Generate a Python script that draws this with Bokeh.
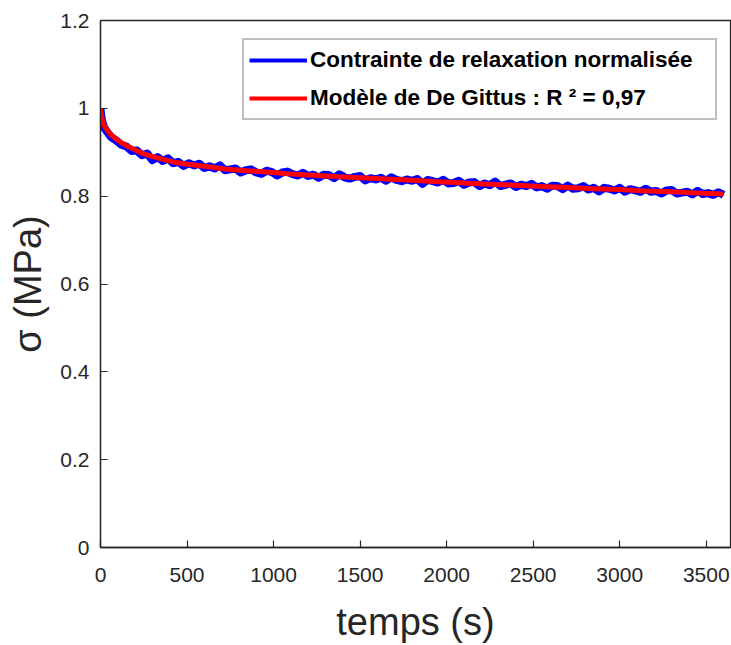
from bokeh.plotting import figure
from bokeh.models import Legend, LegendItem, FixedTicker, CustomJSTickFormatter, Range1d
from bokeh.embed import file_html
from bokeh.resources import INLINE

# ---- data ----
x_ticks = [0, 500, 1000, 1500, 2000, 2500, 3000, 3500]
y_ticks = [0, 0.2, 0.4, 0.6, 0.8, 1, 1.2]

legend_measured = "Contrainte de relaxation normalisée"
legend_model = "Modèle de De Gittus : R ² = 0,97"

x_label = "temps (s)"
y_label = "σ (MPa)"

# measured normalised relaxation stress (noisy)
t_meas = [0, 5, 10, 20, 30, 60, 90, 120, 150, 180, 210, 240, 270, 300, 330, 360, 390,
          420, 450, 480, 510, 540, 570, 600, 630, 660, 690, 720, 750, 780, 810, 840,
          870, 900, 930, 960, 990, 1020, 1050, 1080, 1110, 1140, 1170, 1200, 1230,
          1260, 1290, 1320, 1350, 1380, 1410, 1440, 1470, 1500, 1530, 1560, 1590,
          1620, 1650, 1680, 1710, 1740, 1770, 1800, 1830, 1860, 1890, 1920, 1950,
          1980, 2010, 2040, 2070, 2100, 2130, 2160, 2190, 2220, 2250, 2280, 2310,
          2340, 2370, 2400, 2430, 2460, 2490, 2520, 2550, 2580, 2610, 2640, 2670,
          2700, 2730, 2760, 2790, 2820, 2850, 2880, 2910, 2940, 2970, 3000, 3030,
          3060, 3090, 3120, 3150, 3180, 3210, 3240, 3270, 3300, 3330, 3360, 3390,
          3420, 3450, 3480, 3510, 3540, 3570, 3600]
sigma_meas = [0.998, 0.981, 0.970, 0.957,
              0.951, 0.935, 0.927, 0.917, 0.913, 0.903, 0.904, 0.893, 0.897, 0.882,
              0.889, 0.880, 0.886, 0.875, 0.878, 0.869, 0.875, 0.870, 0.874, 0.864,
              0.868, 0.863, 0.870, 0.859, 0.861, 0.863, 0.854, 0.859, 0.861, 0.854,
              0.851, 0.858, 0.855, 0.847, 0.854, 0.856, 0.850, 0.847, 0.853, 0.846,
              0.849, 0.842, 0.849, 0.848, 0.841, 0.850, 0.843, 0.840, 0.844, 0.846,
              0.836, 0.841, 0.838, 0.842, 0.835, 0.843, 0.837, 0.834, 0.838, 0.835,
              0.839, 0.828, 0.837, 0.834, 0.831, 0.837, 0.829, 0.830, 0.835, 0.826,
              0.831, 0.832, 0.823, 0.829, 0.825, 0.833, 0.823, 0.826, 0.829, 0.821,
              0.826, 0.823, 0.828, 0.820, 0.823, 0.817, 0.824, 0.823, 0.816, 0.824,
              0.817, 0.818, 0.823, 0.815, 0.819, 0.811, 0.819, 0.817, 0.813, 0.819,
              0.810, 0.816, 0.813, 0.810, 0.817, 0.810, 0.812, 0.806, 0.813, 0.814,
              0.806, 0.808, 0.810, 0.804, 0.812, 0.805, 0.807, 0.803, 0.809, 0.803]

# De Gittus model fit
t_model = [0, 5, 10, 20, 30, 60, 90, 120, 150, 180, 240, 300, 360, 420, 480, 540, 600,
           720, 840, 960, 1080, 1200, 1350, 1500, 1650, 1800, 1950, 2100, 2250, 2400,
           2550, 2700, 2850, 3000, 3150, 3300, 3450, 3600]
sigma_model = [1.000, 0.985, 0.975, 0.962, 0.955, 0.940, 0.930, 0.922, 0.915, 0.909,
               0.898, 0.890, 0.884, 0.878, 0.874, 0.871, 0.868, 0.862, 0.858, 0.855,
               0.851, 0.848, 0.845, 0.842, 0.839, 0.836, 0.833, 0.830, 0.827, 0.825,
               0.822, 0.820, 0.817, 0.815, 0.812, 0.810, 0.807, 0.805]

AX = "#262626"
FONT = "Liberation Sans"
BLUE = "#0000ff"
RED = "#ff0000"

p = figure(width=731, height=645, x_range=Range1d(0, 3640), y_range=Range1d(0, 1.2),
           output_backend="svg", toolbar_location=None,
           min_border_left=100, min_border_right=1, min_border_top=20, min_border_bottom=98)
p.background_fill_color = "white"
p.border_fill_color = "white"
p.grid.visible = False
p.outline_line_color = AX
p.outline_line_width = 1.3

p.line(t_meas, sigma_meas, line_color=BLUE, line_width=8, line_join="round")
p.line(t_model, sigma_model, line_color=RED, line_width=5, line_join="round")
# legend swatches (thinner lines, as in the reference legend); a single point draws no segment
k1 = p.line(t_meas[:1], sigma_meas[:1], line_color=BLUE, line_width=4)
k2 = p.line(t_model[:1], sigma_model[:1], line_color=RED, line_width=4)

for ax in (p.xaxis[0], p.yaxis[0]):
    ax.major_tick_in = 7
    ax.major_tick_out = 0
    ax.minor_tick_line_color = None
    ax.axis_line_color = AX
    ax.axis_line_width = 1.3
    ax.major_tick_line_color = AX
    ax.major_tick_line_width = 1.2
    ax.major_label_text_font = FONT
    ax.major_label_text_font_size = "21px"
    ax.major_label_text_color = AX
    ax.axis_label_text_font = FONT
    ax.axis_label_text_font_style = "normal"
    ax.axis_label_text_color = AX
    ax.axis_label_text_font_size = "38px"

p.xaxis.ticker = FixedTicker(ticks=x_ticks)
p.yaxis.ticker = FixedTicker(ticks=y_ticks)
p.yaxis.formatter = CustomJSTickFormatter(code="return String(Math.round(tick*10)/10);")
p.xaxis.major_label_standoff = 20
p.yaxis.major_label_standoff = 11
p.xaxis.axis_label = x_label
p.yaxis.axis_label = y_label
p.xaxis.axis_label_standoff = 16
p.yaxis.axis_label_standoff = 8

legend = Legend(items=[LegendItem(label=legend_measured, renderers=[k1]),
                       LegendItem(label=legend_model, renderers=[k2])],
                location=(142, 427))
legend.label_text_font = FONT
legend.label_text_font_style = "bold"
legend.label_text_font_size = "22.5px"
legend.label_text_color = "black"
legend.label_height = 30
legend.glyph_height = 30
legend.glyph_width = 58
legend.spacing = 8
legend.padding = 5
legend.margin = 0
legend.label_standoff = 3
legend.label_width = 400
legend.border_line_color = "#808080"
legend.border_line_width = 2
legend.background_fill_color = "white"
legend.background_fill_alpha = 1
p.add_layout(legend, "center")

open("out.html", "w").write(file_html(p, INLINE))
